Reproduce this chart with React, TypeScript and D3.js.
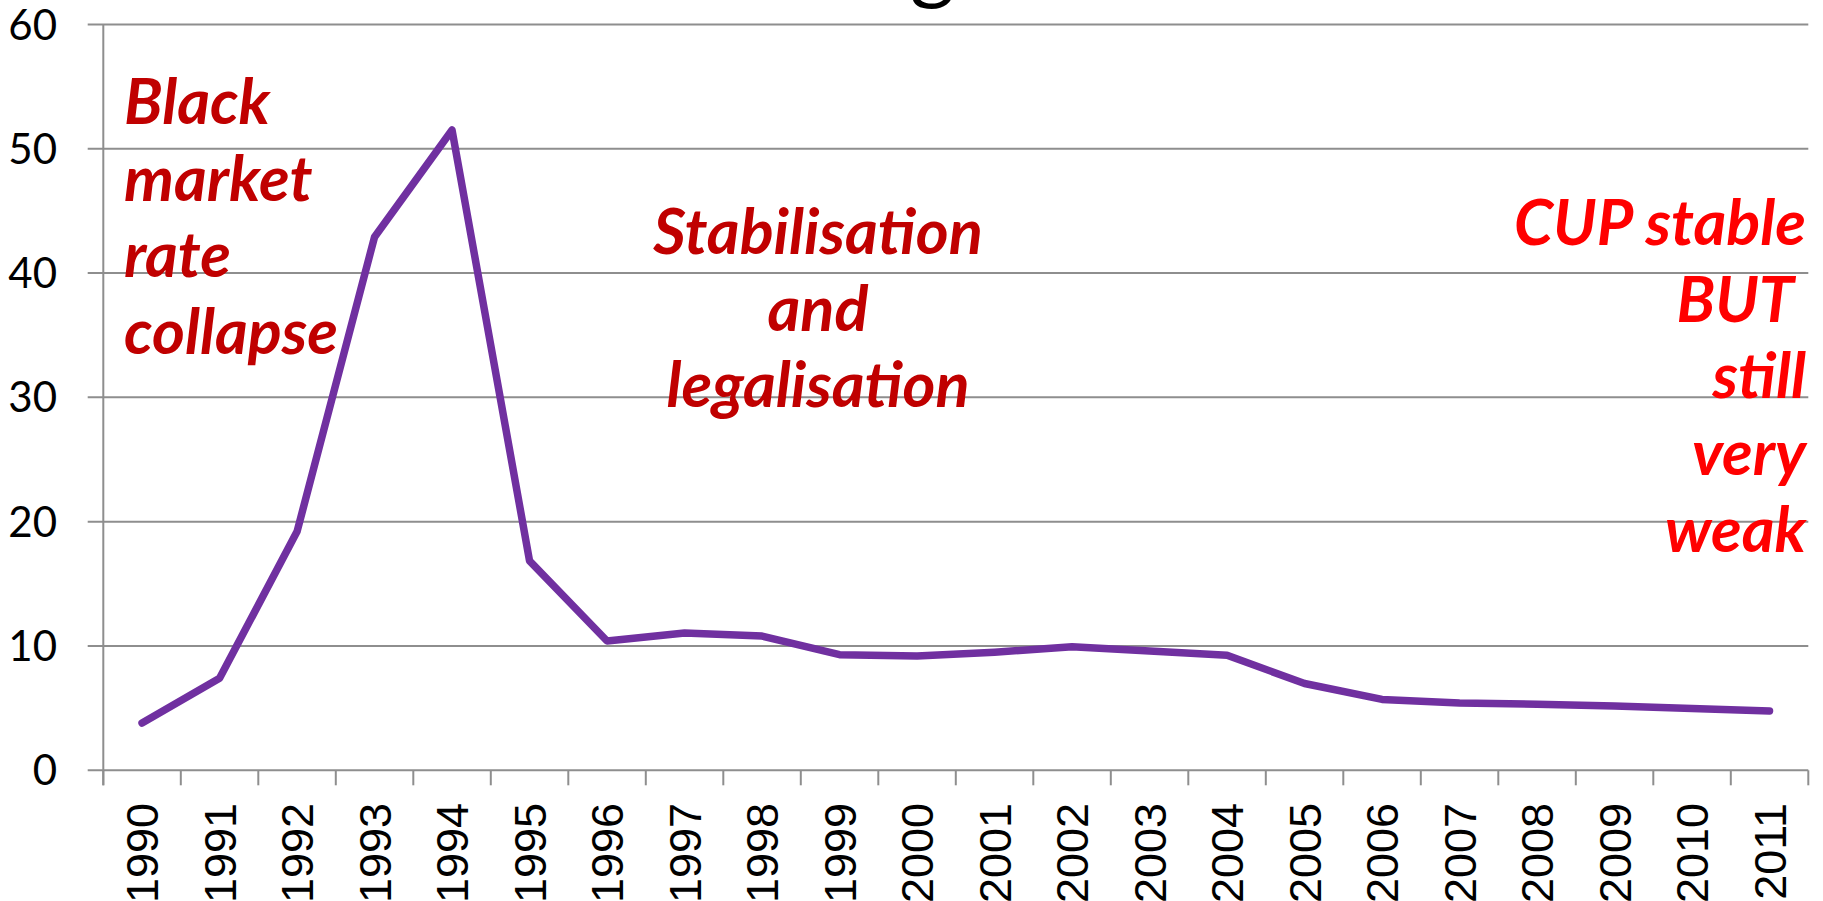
import React from "react";
import * as d3 from "d3";

const years = [
  "1990", "1991", "1992", "1993", "1994", "1995", "1996", "1997", "1998", "1999", "2000",
  "2001", "2002", "2003", "2004", "2005", "2006", "2007", "2008", "2009", "2010", "2011",
];
const rates = [
  3.8, 7.4, 19.2, 42.9, 51.5, 16.85, 10.4, 11.05, 10.8, 9.3, 9.2,
  9.5, 9.93, 9.6, 9.26, 6.98, 5.7, 5.42, 5.31, 5.18, 4.97, 4.77,
];
const yTicks = [0, 10, 20, 30, 40, 50, 60];
const titleHead = "CUP exchan";
const titleTail = "ge rate";
const leftNote = ["Black", "market", "rate", "collapse"];
const midNote = ["Stabilisation", "and", "legalisation"];
const rightNote = ["CUP stable", "BUT ", "still", "very", "weak"];

const W = 1823;
const H = 901;
const X0 = 103.3;
const X1 = 1808.3;
const Y0 = 770.3;
const Y60 = 24.4;
const GRID = "#8e8e8e";

export default function App() {
  const x = d3.scaleBand<string>().domain(years).range([X0, X1]).padding(0);
  const y = d3.scaleLinear().domain([0, 60]).range([Y0, Y60]);
  const line = d3
    .line<number>()
    .x((_, i) => (x(years[i]) as number) + x.bandwidth() / 2)
    .y((d) => y(d));

  const lh = 76.7;
  const noteFont = "Lato, 'Open Sans', sans-serif";
  const noteSize = 63;
  const boundaries = d3.range(years.length + 1).map((i) => X0 + i * x.bandwidth());
  const gX = 910;

  return (
    <svg
      width={W}
      height={H}
      style={{ position: "absolute", left: 0, top: 0, display: "block", background: "#fff" }}
    >
      <text y={-7} fontFamily="Lato, sans-serif" fontSize={86} fill="#000">
        <tspan x={gX} textAnchor="end">{titleHead}</tspan>
        <tspan x={gX} textAnchor="start">{titleTail}</tspan>
      </text>

      {yTicks.map((t) => (
        <g key={t}>
          <line x1={87.7} x2={X1} y1={y(t)} y2={y(t)} stroke={GRID} strokeWidth={2} />
          <text
            x={57}
            y={y(t)}
            dy="0.36em"
            textAnchor="end"
            fontFamily="Lato, sans-serif"
            fontSize={42}
            fill="#000"
          >
            {t}
          </text>
        </g>
      ))}
      <line x1={X0} x2={X0} y1={Y60} y2={Y0 + 15} stroke={GRID} strokeWidth={2} />
      {boundaries.map((bx, i) => (
        <line key={i} x1={bx} x2={bx} y1={Y0} y2={Y0 + 15} stroke={GRID} strokeWidth={2} />
      ))}
      {years.map((yr) => {
        const cx = (x(yr) as number) + x.bandwidth() / 2;
        return (
          <text
            key={yr}
            transform={`translate(${cx},803) rotate(-90)`}
            textAnchor="end"
            dy="0.36em"
            fontFamily="'Liberation Sans', Arial, sans-serif"
            fontSize={45}
            fill="#000"
          >
            {yr}
          </text>
        );
      })}

      <path
        d={line(rates) || ""}
        fill="none"
        stroke="#7030A0"
        strokeWidth={7.5}
        strokeLinejoin="round"
        strokeLinecap="round"
      />

      <text
        fontFamily={noteFont}
        fontSize={noteSize}
        fontWeight="bold"
        fontStyle="italic"
        fill="#C00000"
        textAnchor="start"
      >
        {leftNote.map((s, i) => (
          <tspan key={i} x={124} y={124 + i * lh}>
            {s}
          </tspan>
        ))}
      </text>
      <text
        fontFamily={noteFont}
        fontSize={noteSize}
        fontWeight="bold"
        fontStyle="italic"
        fill="#C00000"
        textAnchor="middle"
      >
        {midNote.map((s, i) => (
          <tspan key={i} x={818} y={254 + i * lh}>
            {s}
          </tspan>
        ))}
      </text>
      <text
        fontFamily={noteFont}
        fontSize={noteSize}
        fontWeight="bold"
        fontStyle="italic"
        fill="#FF0000"
        textAnchor="end"
        style={{ whiteSpace: "pre" }}
      >
        {rightNote.map((s, i) => (
          <tspan key={i} x={1806} y={245 + i * lh}>
            {s}
          </tspan>
        ))}
      </text>
    </svg>
  );
}
